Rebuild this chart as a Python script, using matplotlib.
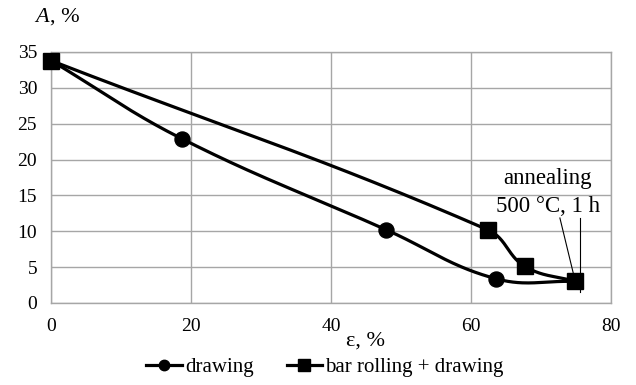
import matplotlib.pyplot as plt
import numpy as np
from matplotlib.lines import Line2D

plt.rcParams["font.family"] = ["Liberation Serif", "DejaVu Serif"]

# data
eps_drawing = [0, 18.7, 47.9, 63.5, 74.9]
a_drawing = [33.8, 22.9, 10.2, 3.4, 3.0]
eps_rolling = [0, 62.4, 67.7, 74.9]
a_rolling = [33.8, 10.2, 5.1, 3.0]
x_ticks = [0, 20, 40, 60, 80]
y_ticks = [0, 5, 10, 15, 20, 25, 30, 35]


def smooth(x, y, n=50, f=0.4):
    """Smoothed line through the points (bezier segments, like Excel)."""
    p = np.column_stack([x, y]).astype(float)
    p = np.vstack([p[0], p, p[-1]])
    out = []
    for i in range(1, len(p) - 2):
        p0, p1, p2, p3 = p[i - 1], p[i], p[i + 1], p[i + 2]
        d12 = np.hypot(*(p2 - p1))
        u1 = (p2 - p0) / np.hypot(*(p2 - p0))
        u2 = (p3 - p1) / np.hypot(*(p3 - p1))
        c1 = p1 + u1 * d12 * f
        c2 = p2 - u2 * d12 * f
        t = np.linspace(0, 1, n)[:, None]
        seg = ((1 - t) ** 3) * p1 + 3 * ((1 - t) ** 2) * t * c1 \
            + 3 * (1 - t) * t ** 2 * c2 + t ** 3 * p2
        out.append(seg)
    out = np.vstack(out)
    return out[:, 0], out[:, 1]


fig = plt.figure(figsize=(6.36, 3.85), dpi=100)
ax = fig.add_axes([0.0802, 0.213, 0.8805, 0.652])

grid_c = "#a6a6a6"
ax.set_xlim(0, 80)
ax.set_ylim(0, 35)
ax.set_xticks(x_ticks)
ax.set_yticks(y_ticks)
ax.grid(True, color=grid_c, linewidth=1.0)
ax.set_axisbelow(True)
for s in ax.spines.values():
    s.set_color(grid_c)
    s.set_linewidth(1.0)
ax.tick_params(length=0, labelsize=14, pad=10)
ax.tick_params(axis="x", pad=11)

sx, sy = smooth(eps_drawing, a_drawing)
ax.plot(sx, sy, color="black", lw=2.3, clip_on=False, zorder=3)
ax.plot(eps_drawing, a_drawing, "o", color="black", ms=10.8, clip_on=False, zorder=4)

sx, sy = smooth(eps_rolling, a_rolling)
ax.plot(sx, sy, color="black", lw=2.3, clip_on=False, zorder=3)
ax.plot(eps_rolling, a_rolling, "s", color="black", ms=11.5, clip_on=False, zorder=4)

# annealing note
ax.text(70.9, 17.4, "annealing", ha="center", va="center", fontsize=16.5)
ax.text(71.0, 13.5, "500 °C, 1 h", ha="center", va="center", fontsize=16.5)
ax.plot([72.7, 74.6], [11.85, 4.2], color="black", lw=0.8, zorder=5)
ax.plot([75.5, 75.5], [11.85, 1.5], color="black", lw=0.8, zorder=5,
        clip_on=False)

fig.text(0.055, 0.955, "A", fontsize=16, style="italic", ha="left", va="center")
fig.text(0.078, 0.955, ", %", fontsize=16, ha="left", va="center")
fig.text(0.575, 0.115, "ε, %", fontsize=16, ha="center", va="center")

handles = [
    Line2D([], [], color="black", lw=2.3, marker="o", ms=7.5),
    Line2D([], [], color="black", lw=2.3, marker="s", ms=8.5),
]
fig.legend(handles, ["drawing", "bar rolling + drawing"], loc="center",
           bbox_to_anchor=(0.511, 0.045), ncol=2, frameon=False, fontsize=15,
           handlelength=1.7, handletextpad=0.15, columnspacing=1.6)

fig.savefig("out.png", dpi=100)
